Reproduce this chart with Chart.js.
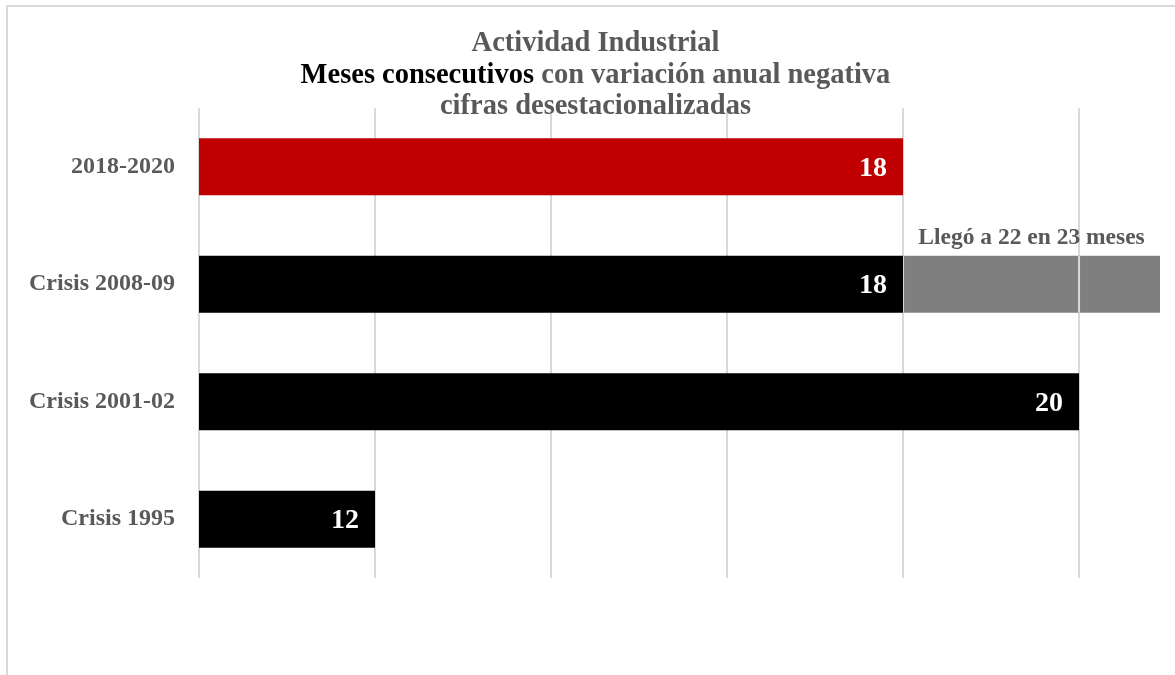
<!DOCTYPE html>
<html>
<head>
<meta charset="utf-8">
<script src="https://cdn.jsdelivr.net/npm/chart.js@4.4.1/dist/chart.umd.min.js"></script>
<style>
  html, body { margin: 0; padding: 0; background: #fff; }
  #wrap { position: relative; width: 1175px; height: 675px; overflow: hidden; }
  #frame { position: absolute; left: 6px; top: 5px; width: 1200px; height: 700px; border: 2px solid #d9d9d9; box-sizing: border-box; }
  #title { position: absolute; left: 8px; top: 26px; width: 1175px; text-align: center;
           font-family: "Liberation Serif", serif; font-weight: bold; font-size: 28.5px; line-height: 31.5px; color: #595959; z-index: 2; }
  #title .dark { color: #000; }
  canvas { position: absolute; left: 0; top: 0; }
</style>
</head>
<body>
<div id="wrap">
  <div id="frame"></div>
  <div id="title">
    <div>Actividad Industrial</div>
    <div><span class="dark">Meses consecutivos</span> con variación anual negativa</div>
    <div>cifras desestacionalizadas</div>
  </div>
  <canvas id="c" width="1175" height="675"></canvas>
</div>
<script>
// ---- data ----
const categories = ['2018-2020', 'Crisis 2008-09', 'Crisis 2001-02', 'Crisis 1995'];
const months = [18, 18, 20, 12];
const extension = [null, 4, null, null];           // 18 -> 22
const extensionNotes = [null, 'Llegó a 22 en 23 meses', null, null];
const axisMin = 10;
const axisMax = 20.92;
const axisStep = 2;

const barColors = ['#C00000', '#000000', '#000000', '#000000'];
const FONT = '"Liberation Serif", serif';

const labelsPlugin = {
  id: 'labelsPlugin',
  afterDatasetsDraw(chart) {
    const ctx = chart.ctx;
    const area = chart.chartArea;
    const xs = chart.scales.x;
    // gridlines visible through the extension bar
    const meta1 = chart.getDatasetMeta(1);
    meta1.data.forEach((el, i) => {
      if (extension[i] == null) return;
      const p = el.getProps(['x', 'y', 'base', 'height'], true);
      const left = Math.max(p.base, area.left), right = Math.min(p.x, area.right);
      ctx.save();
      ctx.beginPath();
      ctx.rect(left, p.y - p.height / 2, right - left, p.height);
      ctx.clip();
      ctx.strokeStyle = '#d9d9d9';
      ctx.lineWidth = 2;
      xs.ticks.forEach(t => {
        if (t.value % axisStep !== 0) return;
        const px = xs.getPixelForValue(t.value);
        ctx.beginPath(); ctx.moveTo(px, area.top); ctx.lineTo(px, area.bottom); ctx.stroke();
      });
      ctx.restore();
      // note above the visible part of the bar
      ctx.save();
      ctx.font = 'bold 23.5px ' + FONT;
      ctx.fillStyle = '#595959';
      ctx.textAlign = 'center';
      ctx.textBaseline = 'alphabetic';
      ctx.fillText(extensionNotes[i], (left + right) / 2, p.y - p.height / 2 - 12);
      ctx.restore();
    });
    // value labels inside end
    const meta0 = chart.getDatasetMeta(0);
    ctx.save();
    ctx.font = 'bold 28px ' + FONT;
    ctx.fillStyle = '#ffffff';
    ctx.textAlign = 'right';
    ctx.textBaseline = 'middle';
    meta0.data.forEach((el, i) => {
      const p = el.getProps(['x', 'y'], true);
      ctx.fillText(String(months[i]), p.x - 16, p.y + 2);
    });
    ctx.restore();
  }
};

new Chart(document.getElementById('c'), {
  type: 'bar',
  data: {
    labels: categories,
    datasets: [
      { data: months, backgroundColor: barColors, borderWidth: 0, clip: 0 },
      { data: extension, backgroundColor: '#7f7f7f', borderWidth: 0, clip: 0 }
    ]
  },
  options: {
    indexAxis: 'y',
    responsive: false,
    animation: false,
    devicePixelRatio: 1,
    layout: { padding: { top: 108, bottom: 97, right: 15, left: 0 } },
    datasets: { bar: { categoryPercentage: 1, barPercentage: 0.485 } },
    plugins: { legend: { display: false }, tooltip: { enabled: false }, title: { display: false } },
    scales: {
      x: {
        stacked: true,
        min: axisMin, max: axisMax,
        ticks: { display: false, stepSize: axisStep },
        grid: {
          drawTicks: false,
          lineWidth: 2,
          color: c => (c.tick && c.tick.value % axisStep === 0) ? '#d9d9d9' : 'rgba(0,0,0,0)'
        },
        border: { display: false },
        afterFit: s => { s.height = 0; }
      },
      y: {
        stacked: true,
        grid: { display: false, drawTicks: false },
        border: { display: false },
        ticks: { color: '#595959', font: { family: FONT, weight: 'bold', size: 24 }, padding: 24 },
        afterFit: s => { s.width = 199; }
      }
    }
  },
  plugins: [labelsPlugin]
});
</script>
</body>
</html>
